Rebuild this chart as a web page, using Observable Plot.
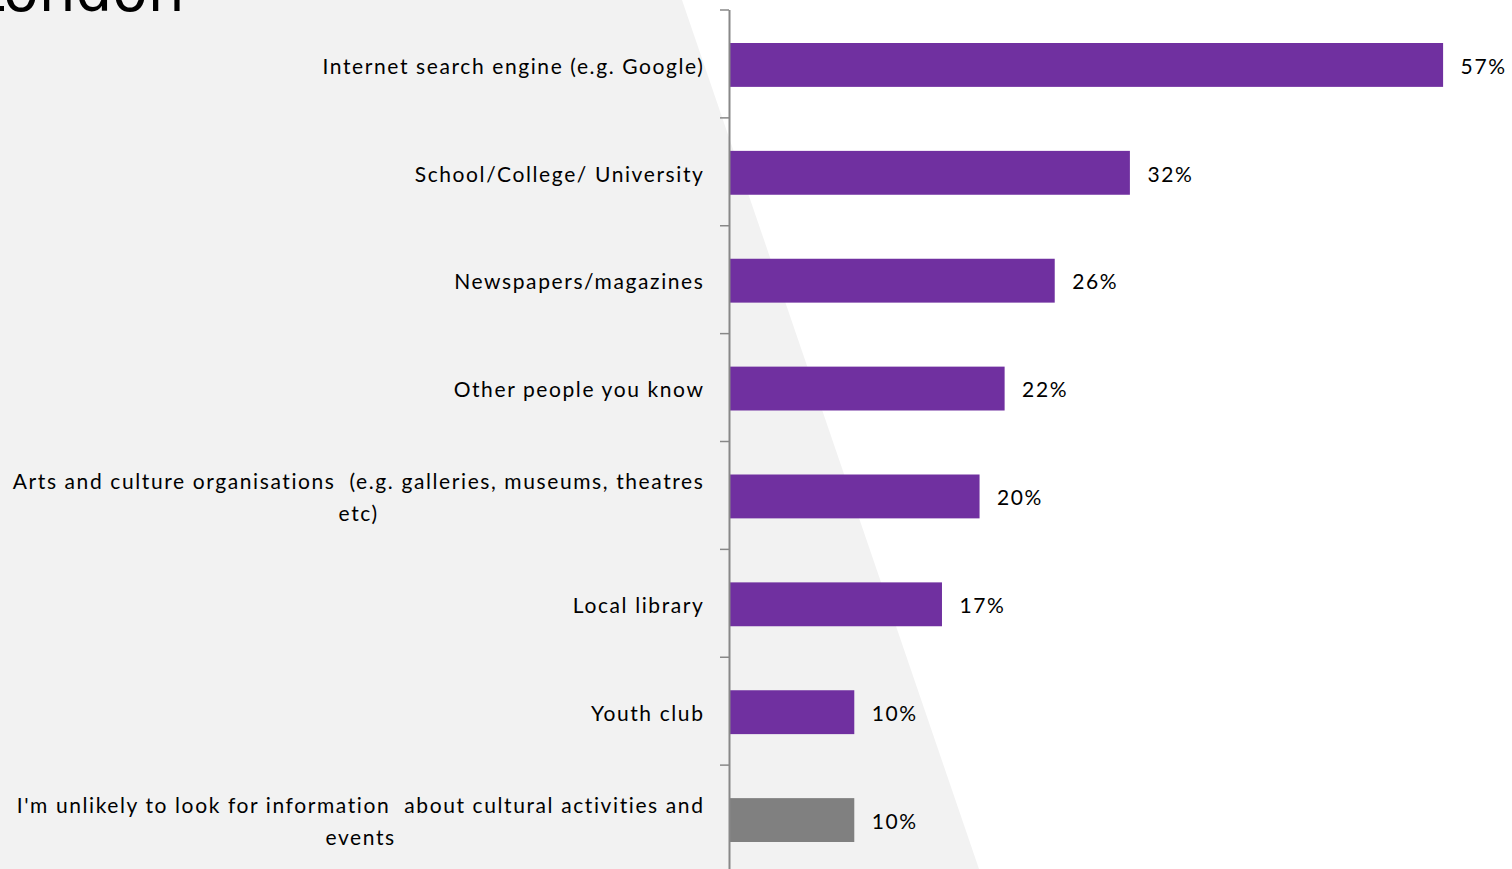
<!DOCTYPE html>
<html>
<head>
<meta charset="utf-8">
<script src="https://cdn.jsdelivr.net/npm/d3@7"></script>
<script src="https://cdn.jsdelivr.net/npm/@observablehq/plot@0.6"></script>
<style>
  html, body { margin: 0; padding: 0; background: #ffffff; overflow: hidden; width: 1512px; height: 869px; }
  #bg { position: absolute; left: 0; top: 0; width: 1512px; height: 869px; background: #f2f2f2;
        clip-path: polygon(0px 0px, 682px 0px, 979px 869px, 0px 869px); }
  #title { position: absolute; left: -28px; top: -38px; font-family: "DejaVu Sans", sans-serif; font-size: 58px;
           line-height: 58px; color: #000; white-space: nowrap; }
  #chart { position: absolute; left: 0; top: 0; }
  #chart svg text { letter-spacing: 1.6px; }
</style>
</head>
<body>
<div id="bg"></div>
<div id="title">London</div>
<div id="chart"></div>
<script>
const categories = [
  "Internet search engine (e.g. Google)",
  "School/College/ University",
  "Newspapers/magazines",
  "Other people you know",
  "Arts and culture organisations (e.g. galleries, museums, theatres etc)",
  "Local library",
  "Youth club",
  "I'm unlikely to look for information about cultural activities and events"
];
const tickLabels = [
  "Internet search engine (e.g. Google)",
  "School/College/ University",
  "Newspapers/magazines",
  "Other people you know",
  "Arts and culture organisations  (e.g. galleries, museums, theatres\netc)",
  "Local library",
  "Youth club",
  "I'm unlikely to look for information  about cultural activities and\nevents"
];
const values = [57, 32, 26, 22, 20, 17, 10, 10];
const kinds = ["source", "source", "source", "source", "source", "source", "source", "none"];

const data = categories.map((c, i) => ({category: c, label: tickLabels[i], value: values[i], kind: kinds[i]}));

const tickMark = (index, scales, values, dimensions) => {
  const y = scales.y;
  const x0 = dimensions.marginLeft;
  const g = d3.create("svg:g");
  const bounds = categories.map(c => y(c));
  bounds.push(dimensions.height - dimensions.marginBottom);
  for (const b of bounds) {
    g.append("line").attr("x1", x0 - 9).attr("x2", x0).attr("y1", b).attr("y2", b)
      .attr("stroke", "#888888").attr("stroke-width", 1.5);
  }
  return g.node();
};

const chart = Plot.plot({
  width: 1512,
  height: 873,
  marginTop: 10,
  marginBottom: 0,
  marginLeft: 729,
  marginRight: 0,
  x: {domain: [0, 62.5], axis: null},
  y: {domain: categories, padding: 0, round: false, axis: null},
  color: {domain: ["source", "none"], range: ["#7030A0", "#808080"]},
  style: {background: "transparent", fontFamily: "Lato, sans-serif", fontSize: "21px", color: "#000", overflow: "visible"},
  marks: [
    Plot.barX(data, {x: "value", y: "category", fill: "kind", insetTop: 33, insetBottom: 31}),
    Plot.text(data, {x: "value", y: "category", text: d => d.value + "%", textAnchor: "start", dx: 17, dy: 2.5, fill: "#000", fontSize: 21}),
    Plot.text(data, {x: 0, y: "category", text: "label", textAnchor: "end", dx: -25, dy: -1, fill: "#000", fontSize: 21, lineHeight: 1.52}),
    Plot.ruleX([0], {stroke: "#888888", strokeWidth: 2}),
    tickMark
  ]
});

document.getElementById("chart").appendChild(chart);

// center the lines of wrapped labels within their own right-aligned block
function centerWrapped() {
  d3.select(chart).selectAll("text").each(function () {
    const spans = this.querySelectorAll("tspan");
    if (spans.length > 1) {
      if (!this.dataset.w) {
        this.dataset.w = this.getBBox().width;
      }
      const w = +this.dataset.w;
      this.setAttribute("text-anchor", "middle");
      spans.forEach(s => s.setAttribute("x", -w / 2));
    }
  });
}
if (document.fonts && document.fonts.ready) {
  document.fonts.ready.then(centerWrapped);
} else {
  centerWrapped();
}
</script>
</body>
</html>
